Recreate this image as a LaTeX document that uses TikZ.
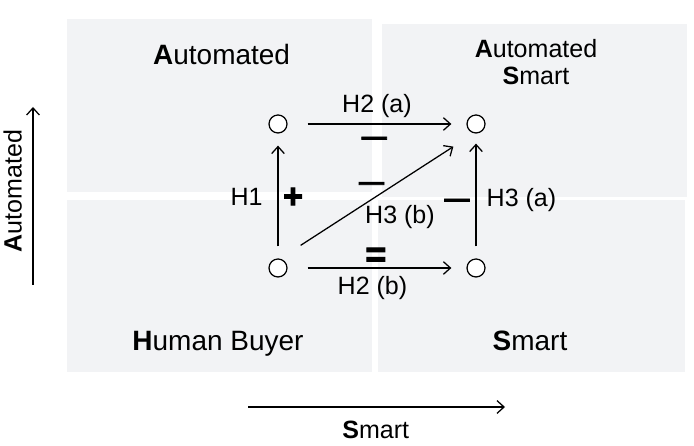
\documentclass[tikz,border=0pt]{standalone}
\usepackage{fontspec}
\setmainfont{Liberation Sans}
\newfontfamily\signfont{Liberation Sans Bold}[FakeBold=3]
\usetikzlibrary{arrows.meta}
\definecolor{quadgray}{RGB}{242,243,245}

\begin{document}
\begin{tikzpicture}[>={Straight Barb[length=5pt,width=9pt]}, line width=0.9pt,
  state/.style={circle,draw,fill=white,inner sep=0pt,minimum size=0.45cm},
  big/.style={font=\fontsize{19.9}{22}\selectfont},
  lbl/.style={font=\fontsize{17.8}{19.2}\selectfont},
  sign/.style={font=\fontsize{17.8}{19.2}\signfont,inner sep=0pt,anchor=mid}]
\useasboundingbox (0,0) rectangle (17.35,11.15);

\fill[quadgray] (1.675,6.35) rectangle (9.3,10.675) ;
\node[big,anchor=base] (autoLbl) at (5.54,9.525) {\textbf{A}utomated} ;

\fill[quadgray] (9.55,6.225) rectangle (17.175,10.55) ;
\node[lbl,align=center] (autoSmartLbl) at (13.4,9.59) {\textbf{A}utomated\\\textbf{S}mart} ;

\fill[quadgray] (1.675,1.85) rectangle (9.3,6.15) ;
\node[big,anchor=base] (humanLbl) at (5.45,2.375) {\textbf{H}uman Buyer} ;

\fill[quadgray] (9.45,1.85) rectangle (17.125,6.15) ;
\node[big,anchor=base] (smartLbl) at (13.25,2.375) {\textbf{S}mart} ;

\node[state] (au) at (6.95,8.05) {} ;
\node[state] (as) at (11.9,8.05) {} ;
\node[state] (hb) at (6.95,4.45) {} ;
\node[state] (sm) at (11.9,4.45) {} ;

\draw[->,shorten <=0.5cm,shorten >=0.375cm] (au) -- (as) ;
\draw[->,shorten <=0.5cm,shorten >=0.375cm] (hb) -- (sm) ;
\draw[->,shorten <=0.3cm,shorten >=0.3cm] (hb) -- (au) ;
\draw[->,shorten <=0.3cm,shorten >=0.25cm] (sm) -- (as) ;
\draw[->] ([shift={(45:0.8)}]hb.center) -- ([shift={(225:0.8)}]as.center) ;

\node[lbl,anchor=base] (h2a) at (9.425,8.3375) {H2 (a)} ;
\node[lbl,anchor=base] (h2b) at (9.3125,3.7875) {H2 (b)} ;
\node[lbl,anchor=base] (h1) at (6.1625,6.0) {H1} ;
\node[lbl,anchor=base] (h3a) at (13.0375,5.975) {H3 (a)} ;
\node[lbl,anchor=base] (h3b) at (10.0,5.55) {H3 (b)} ;

\node[sign] (minusA) at (9.355,7.62) {—} ;
\node[sign] (minusB) at (9.29,6.49) {—} ;
\node[sign] (minusC) at (11.425,6.07) {—} ;
\node[sign,font=\fontsize{24}{26}\signfont] (plus) at (7.325,6.05) {+} ;
\node[sign,font=\fontsize{25.6}{26}\signfont] (equal) at (9.395,4.58) {=} ;

% axes
\coordinate (smartTail) at (6.2,0.975) ;
\coordinate (smartHead) at (12.625,0.975) ;
\draw[->] (smartTail) -- (smartHead) ;
\node[lbl,anchor=base] (smartAxis) at (9.395,0.19) {\textbf{S}mart} ;

\coordinate (autoTail) at (0.825,4.025) ;
\coordinate (autoHead) at (0.825,8.475) ;
\draw[->] (autoTail) -- (autoHead) ;
\node[lbl,rotate=90,anchor=base] (autoAxis) at (0.54,6.375) {\textbf{A}utomated} ;

\end{tikzpicture}
\end{document}
